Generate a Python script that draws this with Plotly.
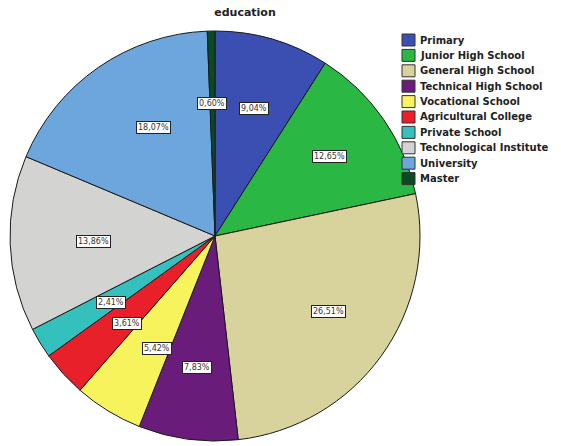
import math
import plotly.graph_objects as go

# Education level of respondents (counts, n = 166)
categories = [
    "Primary", "Junior High School", "General High School", "Technical High School",
    "Vocational School", "Agricultural College", "Private School",
    "Technological Institute", "University", "Master",
]
counts = [15, 21, 44, 13, 9, 6, 4, 23, 30, 1]
colors = [
    "#3b4fb3", "#2bb744", "#d8d29c", "#6a1c7a", "#f6f35c",
    "#e8202a", "#34c1bd", "#d3d3d1", "#6ca6dc", "#0b4a25",
]

W, H = 561, 446
# pie placement in pixels
cx, cy, r = 215, 236, 205

total = sum(counts)
pcts = [c / total * 100 for c in counts]

fig = go.Figure(go.Pie(
    labels=categories,
    values=counts,
    marker=dict(colors=colors, line=dict(color="#1a1a1a", width=1)),
    sort=False,
    direction="clockwise",
    rotation=0,
    textinfo="none",
    hoverinfo="label+percent",
    showlegend=False,
    domain=dict(x=[(cx - r) / W, (cx + r) / W], y=[1 - (cy + r) / H, 1 - (cy - r) / H]),
))

annotations = []
shapes = []

# percentage labels in white boxes, placed at each slice's mid-angle
cum = 0.0
for p in pcts:
    mid = (cum + p / 2) / 100 * 2 * math.pi
    cum += p
    px = cx + 0.68 * r * math.sin(mid)
    py = cy - 0.68 * r * math.cos(mid)
    annotations.append(dict(
        x=px / W, y=1 - py / H, xref="paper", yref="paper",
        text=f"{p:.2f}%".replace(".", ","), showarrow=False,
        font=dict(family="DejaVu Sans", size=8, color="#333333"),
        bgcolor="white", bordercolor="#222222", borderwidth=1, borderpad=1,
    ))

# legend: swatch + label per category
lx, ly0, step = 402, 40, 15.4
for i, (name, col) in enumerate(zip(categories, colors)):
    yc = ly0 + i * step
    shapes.append(dict(
        type="rect", xref="paper", yref="paper",
        x0=lx / W, x1=(lx + 13) / W,
        y0=1 - (yc + 6) / H, y1=1 - (yc - 6) / H,
        fillcolor=col, line=dict(color="#333333", width=1),
    ))
    annotations.append(dict(
        x=(lx + 16) / W, y=1 - yc / H, xref="paper", yref="paper",
        xanchor="left", yanchor="middle", text=name, showarrow=False,
        font=dict(family="DejaVu Sans", size=10, color="#222222", weight="bold"),
    ))

fig.update_layout(
    width=W, height=H,
    margin=dict(l=0, r=0, t=0, b=0),
    paper_bgcolor="white",
    title=dict(
        text="education", x=245 / W, xanchor="center", y=1 - 12 / H, yanchor="middle",
        font=dict(family="DejaVu Sans", size=11, color="#222222", weight="bold"),
    ),
    annotations=annotations,
    shapes=shapes,
)

fig.write_html("out.html")
